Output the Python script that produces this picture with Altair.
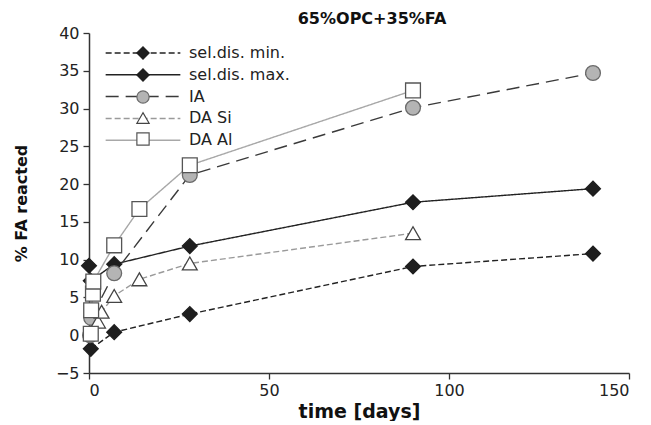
import altair as alt
import pandas as pd

# ---- data ----
series_names = ["sel.dis. min.", "sel.dis. max.", "IA", "DA Si", "DA Al"]

min_days = [0.5, 7, 28, 90, 140]
min_vals = [-1.8, 0.4, 2.8, 9.1, 10.8]

max_days = [0, 0.5, 7, 28, 90, 140]
max_vals = [9.2, 7.2, 9.4, 11.8, 17.6, 19.4]

ia_days = [0.3, 0.6, 7, 28, 90, 140]
ia_vals = [0.0, 2.3, 8.2, 21.2, 30.1, 34.7]

si_days = [2.5, 3.5, 7, 14, 28, 90]
si_vals = [1.8, 3.1, 5.2, 7.4, 9.5, 13.5]

al_days = [0.5, 0.6, 1.1, 1.2, 7, 14, 28, 90]
al_vals = [0.2, 3.3, 5.5, 7.1, 11.9, 16.7, 22.5, 32.4]

x_ticks = [0, 50, 100, 150]
y_ticks = [-5, 0, 5, 10, 15, 20, 25, 30, 35, 40]

# ---- styles ----
line_colors = ["#222222", "#222222", "#3a3a3a", "#9a9a9a", "#a8a8a8"]
line_dashes = [[6, 3], [1, 0], [13, 7], [6, 3], [1, 0]]
shapes = ["diamond", "diamond", "circle", "triangle-up", "square"]
fills = ["#1e1e1e", "#1e1e1e", "#b4b4b4", "#ffffff", "#ffffff"]
strokes = ["#1e1e1e", "#1e1e1e", "#6a6a6a", "#444444", "#555555"]

rows = []
for name, ds, vs in zip(series_names,
                        [min_days, max_days, ia_days, si_days, al_days],
                        [min_vals, max_vals, ia_vals, si_vals, al_vals]):
    for d, v in zip(ds, vs):
        rows.append({"series": name, "series2": name, "day": d, "val": v,
                     "ord": series_names.index(name)})
df = pd.DataFrame(rows)

FONT = "DejaVu Sans"

x_enc = alt.X("day:Q", scale=alt.Scale(domain=[0, 150], nice=False),
              axis=alt.Axis(values=x_ticks, title="time [days]", grid=False,
                            labelFontSize=16, titleFontSize=19, titleFontWeight="bold",
                            tickSize=6, labelPadding=3, titlePadding=4,
                            domainColor="#333", tickColor="#333", labelColor="#222",
                            titleColor="#111", domainWidth=1.5, tickWidth=1.3,
                            labelFont=FONT, titleFont=FONT))
y_enc = alt.Y("val:Q", scale=alt.Scale(domain=[-5, 40], nice=False),
              axis=alt.Axis(values=y_ticks, title="% FA reacted", grid=False,
                            labelFontSize=16, titleFontSize=16, titleFontWeight="bold",
                            tickSize=6, labelPadding=4, titlePadding=26,
                            domainColor="#333", tickColor="#333", labelColor="#222",
                            titleColor="#111", domainWidth=1.5, tickWidth=1.3,
                            labelFont=FONT, titleFont=FONT))

LX, LY = 46, 12
line_legend = alt.Legend(orient="none", legendX=LX, legendY=LY, title=None,
                         symbolType="M-6.1,0H6.1", symbolSize=150, symbolStrokeWidth=1.5,
                         labelFontSize=16, labelFont=FONT, labelColor="#222",
                         labelOffset=38, rowPadding=5.8, padding=0)
pt_legend = alt.Legend(orient="none", legendX=LX, legendY=LY, title=None,
                       symbolSize=150, symbolStrokeWidth=1.2, symbolOpacity=1,
                       labelFontSize=16, labelFont=FONT, labelOpacity=0,
                       labelOffset=38, rowPadding=4, padding=0)

ord_sort = alt.EncodingSortField(field="ord", op="min")

lines = alt.Chart(df).mark_line(strokeWidth=1.4).encode(
    x=x_enc, y=y_enc,
    color=alt.Color("series:N", scale=alt.Scale(domain=series_names, range=line_colors),
                    legend=line_legend),
    strokeDash=alt.StrokeDash("series:N", scale=alt.Scale(domain=series_names, range=line_dashes),
                              legend=line_legend),
    detail="series:N",
)

points = alt.Chart(df).mark_point(size=220, filled=False, strokeWidth=1.3, opacity=1).encode(
    x=x_enc, y=y_enc,
    shape=alt.Shape("series2:N", sort=ord_sort, scale=alt.Scale(range=shapes), legend=pt_legend),
    fill=alt.Fill("series2:N", sort=ord_sort, scale=alt.Scale(range=fills), legend=pt_legend),
    stroke=alt.Stroke("series2:N", sort=ord_sort, scale=alt.Scale(range=strokes), legend=pt_legend),
    order=alt.Order("ord:Q"),
)

chart = alt.layer(lines, points).properties(
    width=540, height=340,
    title=alt.TitleParams("65%OPC+35%FA", fontSize=16, fontWeight="bold", font=FONT,
                          color="#111", anchor="middle", frame="group", offset=10, dx=13, dy=12),
    autosize=alt.AutoSizeParams(type="none"),
    padding={"left": 81, "top": 25, "right": 14, "bottom": 48},
    background="white",
).configure_view(stroke=None)

chart.save("out.html", embed_options={"renderer": "svg", "actions": False})
